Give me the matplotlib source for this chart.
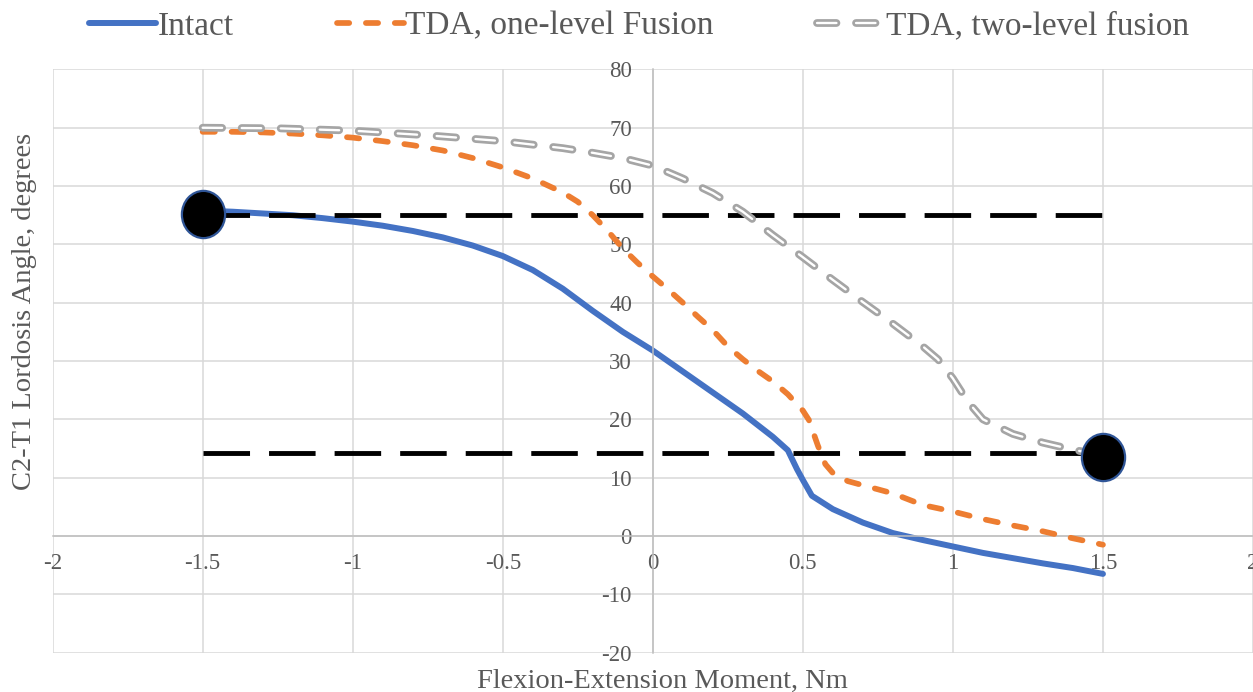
import numpy as np
import matplotlib
matplotlib.use('Agg')
import matplotlib.pyplot as plt
from matplotlib.path import Path
from matplotlib.transforms import Affine2D
from matplotlib.ticker import FormatStrFormatter

plt.rcParams['font.family'] = ['Liberation Serif', 'DejaVu Serif']
plt.rcParams['axes.unicode_minus'] = False
plt.rcParams['lines.scale_dashes'] = False

# moment (Nm) and lordosis angle (deg)
intact_x = [-1.5, -1.4, -1.3, -1.2, -1.1, -1.0, -0.9, -0.8, -0.7, -0.6, -0.5, -0.4, -0.3, -0.2, -0.1,
            0.0, 0.1, 0.2, 0.3, 0.4, 0.45, 0.48, 0.5, 0.53, 0.6, 0.7, 0.8, 0.9, 1.0, 1.1, 1.2, 1.3, 1.4, 1.5]
intact_y = [55.8, 55.6, 55.3, 55.0, 54.5, 53.9, 53.2, 52.3, 51.2, 49.8, 48.0, 45.6, 42.4, 38.6, 35.0,
            31.8, 28.2, 24.6, 21.0, 17.0, 14.7, 11.5, 9.6, 6.9, 4.6, 2.3, 0.5, -0.7, -1.8, -2.9, -3.8, -4.7, -5.5, -6.5]

one_level_x = [-1.5, -1.4, -1.3, -1.2, -1.1, -1.0, -0.9, -0.8, -0.7, -0.6, -0.5, -0.4, -0.3, -0.25, -0.2,
               -0.15, -0.1, -0.05, 0.0, 0.05, 0.1, 0.15, 0.2, 0.25, 0.3, 0.35, 0.4, 0.45, 0.5, 0.52, 0.55,
               0.575, 0.6, 0.65, 0.7, 0.8, 0.9, 1.0, 1.1, 1.2, 1.3, 1.4, 1.5]
one_level_y = [69.3, 69.3, 69.2, 69.0, 68.7, 68.3, 67.7, 67.0, 66.1, 64.8, 63.2, 61.3, 58.9, 57.3, 55.0,
               52.3, 49.3, 46.8, 44.5, 42.3, 40.0, 37.6, 35.3, 32.5, 30.3, 28.3, 26.5, 24.3, 21.5, 19.9, 15.5,
               12.3, 10.8, 9.4, 8.7, 7.3, 5.3, 4.2, 2.9, 1.8, 0.8, -0.4, -1.5]

two_level_x = [-1.5, -1.25, -1.0, -0.75, -0.5, -0.3, -0.2, -0.1, 0.0, 0.1, 0.2, 0.3, 0.4, 0.5, 0.6, 0.7,
               0.8, 0.9, 0.95, 1.0, 1.05, 1.1, 1.2, 1.3, 1.4, 1.5]
two_level_y = [70.0, 69.9, 69.5, 68.7, 67.7, 66.5, 65.7, 64.8, 63.5, 61.3, 58.8, 55.6, 51.6, 47.8, 43.9, 40.1,
               36.4, 32.5, 30.3, 27.0, 23.0, 20.0, 17.5, 16.0, 14.8, 13.8]

ref_x = [-1.5, 1.5]
ref_y = [55.2, 13.55]
upper_level = 55.0
lower_level = 14.2

fig = plt.figure(figsize=(12.53, 6.92), dpi=100)
ax = fig.add_axes([0.042, 0.0569, 0.958, 0.8428])

ax.set_xlim(-2, 2)
ax.set_ylim(-20, 80)
ax.set_xticks(np.arange(-2, 2.01, 0.5))
ax.set_yticks(np.arange(-20, 81, 10))
ax.xaxis.set_major_formatter(FormatStrFormatter('%g'))
ax.yaxis.set_major_formatter(FormatStrFormatter('%g'))
ax.grid(True, color='#d9d9d9', lw=1.1)
ax.set_axisbelow(True)

# excel style axes crossing at zero
ax.spines['left'].set_position(('data', 0))
ax.spines['bottom'].set_position(('data', 0))
for s in ['left', 'bottom']:
    ax.spines[s].set_color('#bfbfbf')
    ax.spines[s].set_linewidth(1.1)
ax.spines['top'].set_visible(False)
ax.spines['right'].set_visible(False)
ax.tick_params(axis='both', length=0, labelsize=16.5, labelcolor='#595959')
ax.tick_params(axis='y', pad=15)
ax.tick_params(axis='x', pad=12)

l_intact, = ax.plot(intact_x, intact_y, color='#4472c4', lw=4.3, solid_capstyle='round',
                    solid_joinstyle='round', zorder=2)

for lvl in [upper_level, lower_level]:
    ax.plot([ref_x[0], ref_x[1]], [lvl, lvl], color='black', lw=3.5,
            dashes=(33.5, 13.7), dash_capstyle='butt', zorder=2.5)

l_one, = ax.plot(one_level_x, one_level_y, color='#ed7d31', lw=4.1,
                 dashes=(8.8, 12.0), dash_capstyle='round', zorder=3)

# two-level curve is an outlined dash: grey stroke with white core
l_two_out, = ax.plot(two_level_x, two_level_y, color='#a5a5a5', lw=5.6,
                     dashes=(14.0, 14.1), dash_capstyle='round', zorder=3.5)
l_two_in, = ax.plot(two_level_x, two_level_y, color='white', lw=1.7,
                    dashes=(14.0, 14.1), dash_capstyle='round', zorder=3.6)

ellipse = Path.unit_circle().transformed(Affine2D().scale(1.0, 47 / 43))
ax.plot(ref_x, ref_y, ls='none', marker=ellipse, markersize=34,
        markerfacecolor='black', markeredgecolor='#2f5597', markeredgewidth=1.6, zorder=5, clip_on=False)

fig.legend([l_intact, l_one, (l_two_out, l_two_in)],
           ['Intact', 'TDA, one-level Fusion', 'TDA, two-level fusion'],
           loc='center', bbox_to_anchor=(0.51, 0.962), ncol=3, frameon=False,
           fontsize=24, handlelength=2.0, handletextpad=0.05, columnspacing=3.1,
           labelcolor='#595959')

fig.text(0.529, 0.015, 'Flexion-Extension Moment, Nm', ha='center', va='center',
         fontsize=20.5, color='#595959')
fig.text(0.0195, 0.55, 'C2-T1 Lordosis Angle, degrees', ha='center', va='center',
         rotation=90, fontsize=20.5, color='#595959')

fig.savefig('out.png', dpi=100)
